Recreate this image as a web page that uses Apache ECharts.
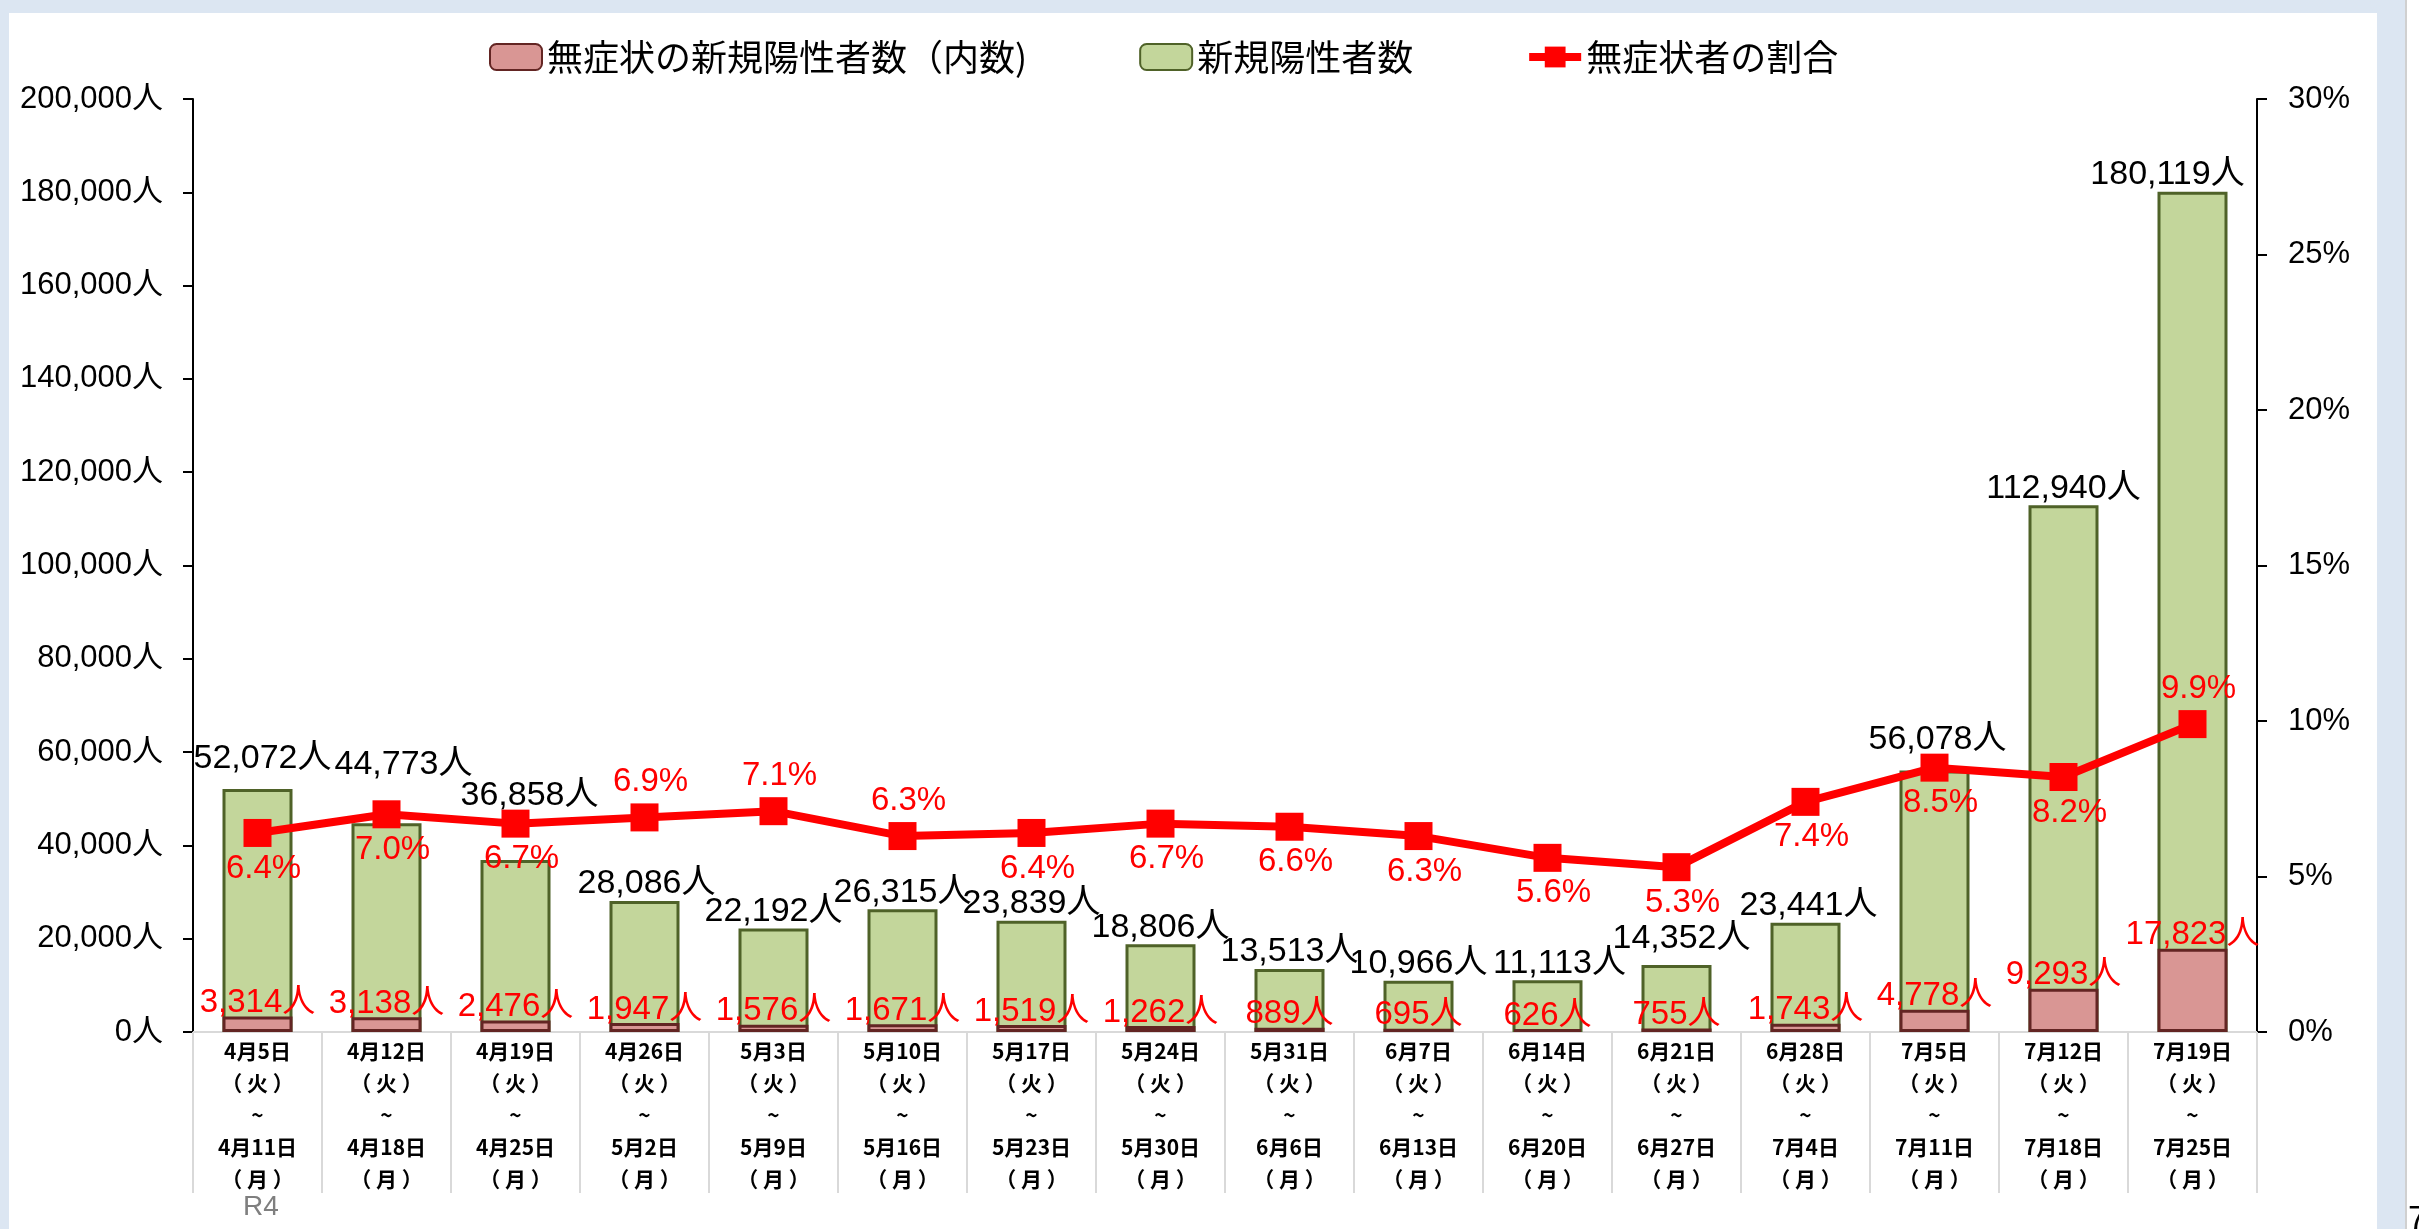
<!DOCTYPE html>
<html>
<head>
<meta charset="utf-8">
<script src="https://cdn.jsdelivr.net/npm/echarts@6/dist/echarts.min.js"></script>
<style>
  html, body { margin: 0; padding: 0; background: #dce6f2; }
  #wrap { position: relative; width: 2419px; height: 1229px; overflow: hidden; }
  #paper { position: absolute; left: 9px; top: 13px; width: 2368px; height: 1216px; background: #fff; }
  #edge { position: absolute; left: 2405px; top: 0; width: 14px; height: 1229px; background: #fff; border-left: 2px solid #d0d0d0; }
  #chart { position: absolute; left: 0; top: 0; width: 2419px; height: 1229px; }
</style>
</head>
<body>
<div id="wrap">
  <div id="paper"></div>
  <div id="edge"></div>
  <div id="chart"></div>
</div>
<script>
// 週の始まり（火）と終わり（月）
var weekStart = ['4月5日', '4月12日', '4月19日', '4月26日', '5月3日', '5月10日', '5月17日', '5月24日',
  '5月31日', '6月7日', '6月14日', '6月21日', '6月28日', '7月5日', '7月12日', '7月19日']
var weekEnd = ['4月11日', '4月18日', '4月25日', '5月2日', '5月9日', '5月16日', '5月23日', '5月30日',
  '6月6日', '6月13日', '6月20日', '6月27日', '7月4日', '7月11日', '7月18日', '7月25日']

// 新規陽性者数
var newCases = [52072, 44773, 36858, 28086, 22192, 26315, 23839, 18806,
  13513, 10966, 11113, 14352, 23441, 56078, 112940, 180119]
// 無症状の新規陽性者数（内数）
var asymCases = [3314, 3138, 2476, 1947, 1576, 1671, 1519, 1262,
  889, 695, 626, 755, 1743, 4778, 9293, 17823]
// 無症状者の割合 (%)
var asymRate = [6.4, 7.0, 6.7, 6.9, 7.1, 6.3, 6.4, 6.7, 6.6, 6.3, 5.6, 5.3, 7.4, 8.5, 8.2, 9.9]

var leftTicks = { min: 0, max: 200000, interval: 20000 }
var rightTicks = { min: 0, max: 30, interval: 5 }

// label placement (style, not data)
var newLabelShift = [[5, -13], [17, -42], [14, -47], [2, 0], [0, 0], [0, 0], [0, 0], [0, 0],
  [0, 0], [0, 0], [12, 0], [5, -9], [3, 0], [3, -14], [0, 0], [-25, 0]]
var rateLabelPos = ['bottom', 'bottom', 'bottom', 'top', 'top', 'top', 'bottom', 'bottom',
  'bottom', 'bottom', 'bottom', 'bottom', 'bottom', 'bottom', 'bottom', 'top']

var latin = "'Liberation Sans', Arial, 'Noto Sans CJK JP', sans-serif"
var cjk = "'Noto Sans CJK JP', sans-serif"

var categories = weekStart.map(function (s, i) {
  return s + '\n（ 火 ）\n~\n' + weekEnd[i] + '\n（ 月 ）'
})

function people(v) {
  return Number(v).toLocaleString('en-US') + '人'
}

var chart = echarts.init(document.getElementById('chart'))

chart.setOption({
  animation: false,
  legend: {
    left: 484,
    top: 34,
    itemWidth: 52,
    itemHeight: 26,
    itemGap: 112,
    data: [
      '無症状の新規陽性者数（内数)',
      '新規陽性者数',
      { name: '無症状者の割合', lineStyle: { width: 8 } }
    ],
    textStyle: { fontFamily: cjk, fontSize: 36, color: '#000' }
  },
  grid: { left: 193, right: 162, top: 99, bottom: 197 },
  xAxis: {
    type: 'category',
    data: categories,
    axisLine: { lineStyle: { color: '#d9d9d9', width: 2 } },
    axisTick: { show: true, length: 161, lineStyle: { color: '#d9d9d9', width: 2 } },
    axisLabel: {
      interval: 0,
      margin: 3,
      fontFamily: cjk,
      fontSize: 21,
      fontWeight: 'bold',
      lineHeight: 32,
      color: '#000'
    }
  },
  yAxis: [
    {
      type: 'value',
      min: leftTicks.min,
      max: leftTicks.max,
      interval: leftTicks.interval,
      splitLine: { show: false },
      axisLine: { show: true, lineStyle: { color: '#000', width: 2 } },
      axisTick: { show: true, length: 10, lineStyle: { color: '#000', width: 2 } },
      axisLabel: {
        margin: 30,
        fontFamily: latin,
        fontSize: 31,
        color: '#000',
        formatter: people
      }
    },
    {
      type: 'value',
      min: rightTicks.min,
      max: rightTicks.max,
      interval: rightTicks.interval,
      splitLine: { show: false },
      axisLine: { show: true, lineStyle: { color: '#000', width: 2 } },
      axisTick: { show: true, length: 10, lineStyle: { color: '#000', width: 2 } },
      axisLabel: {
        margin: 31,
        fontFamily: latin,
        fontSize: 31,
        color: '#000',
        formatter: '{value}%'
      }
    }
  ],
  series: [
    {
      name: '新規陽性者数',
      type: 'bar',
      barWidth: 70,
      itemStyle: { color: '#c3d69b', borderColor: '#4f6228', borderWidth: 3 },
      label: {
        show: true,
        position: 'top',
        distance: 0,
        fontFamily: latin,
        fontSize: 34,
        color: '#000',
        formatter: function (p) { return people(p.value) }
      },
      data: newCases.map(function (v, i) {
        return { value: v, label: { offset: newLabelShift[i] } }
      })
    },
    {
      name: '無症状の新規陽性者数（内数)',
      type: 'bar',
      barWidth: 70,
      barGap: '-100%',
      itemStyle: { color: '#d99694', borderColor: '#632523', borderWidth: 3 },
      label: {
        show: true,
        position: 'top',
        distance: -3,
        fontFamily: latin,
        fontSize: 33,
        color: '#ff0000',
        formatter: function (p) { return people(p.value) }
      },
      data: asymCases
    },
    {
      name: '無症状者の割合',
      type: 'line',
      yAxisIndex: 1,
      z: 5,
      symbol: 'rect',
      symbolSize: 28,
      itemStyle: { color: '#ff0000' },
      lineStyle: { color: '#ff0000', width: 8 },
      label: {
        show: true,
        offset: [6, 0],
        fontFamily: latin,
        fontSize: 33,
        color: '#ff0000',
        formatter: function (p) { return p.value.toFixed(1) + '%' }
      },
      data: asymRate.map(function (v, i) {
        return { value: v, label: { position: rateLabelPos[i] } }
      })
    }
  ],
  graphic: [
    {
      type: 'text',
      left: 243,
      top: 1193,
      style: { text: 'R4', fontFamily: latin, fontSize: 28, fill: '#7f7f7f' }
    },
    {
      type: 'text',
      left: 2408,
      top: 1203,
      style: { text: '7', fontFamily: latin, fontSize: 34, fill: '#000' }
    }
  ]
})
</script>
</body>
</html>
